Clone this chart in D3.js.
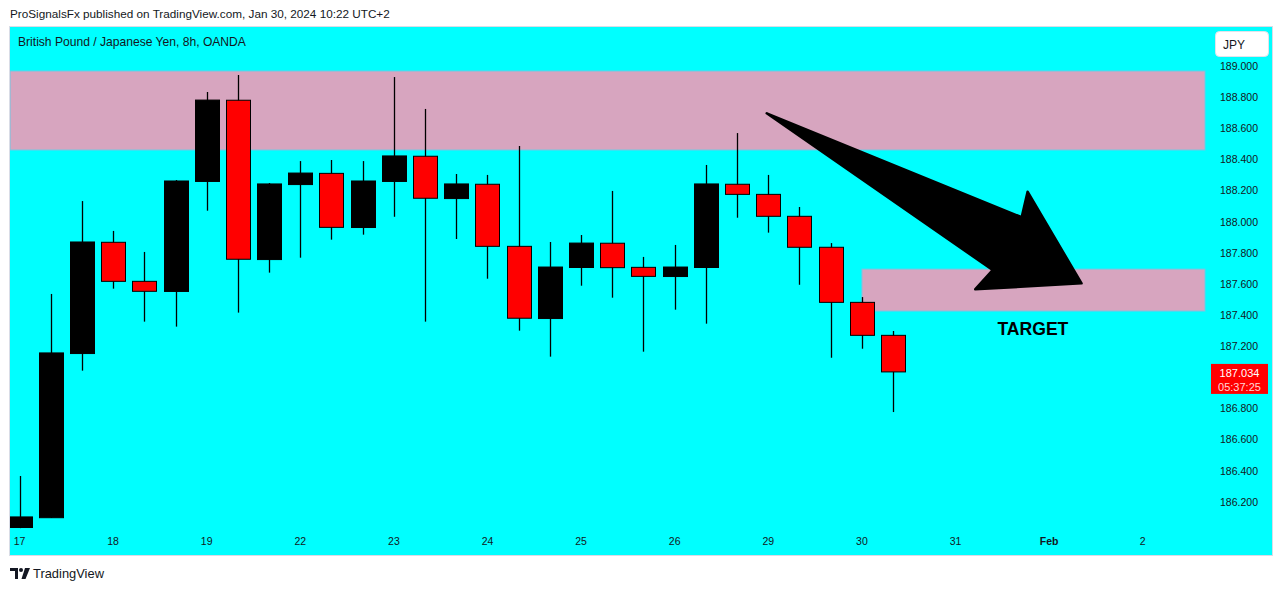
<!DOCTYPE html>
<html><head><meta charset="utf-8">
<script src="https://cdn.jsdelivr.net/npm/d3@7"></script>
<style>
body{margin:0;background:#fff;}
svg{display:block;font-family:"Liberation Sans",Arial,sans-serif;}
</style>
</head><body>
<svg id="c" width="1283" height="591"></svg>
<script>
// ---------- DATA ----------
const candleDays = ["Jan 17","Jan 17","Jan 17","Jan 18","Jan 18","Jan 18","Jan 19","Jan 19","Jan 19",
  "Jan 22","Jan 22","Jan 22","Jan 23","Jan 23","Jan 23","Jan 24","Jan 24","Jan 24","Jan 25","Jan 25","Jan 25",
  "Jan 26","Jan 26","Jan 26","Jan 29","Jan 29","Jan 29","Jan 30","Jan 30"];
const opens  = [186.034,186.097,187.152,187.867,187.616,187.551,188.258,188.780,187.756,188.238,
                188.310,187.962,188.258,188.420,188.148,188.240,187.841,187.377,187.705,187.861,
                187.706,187.647,187.705,188.240,188.175,188.034,187.835,187.481,187.269];
const highs  = [186.365,187.535,188.132,187.940,187.805,188.267,188.833,188.942,188.248,188.389,
                188.396,188.389,188.929,188.724,188.306,188.300,188.486,187.869,187.914,188.197,
                187.773,187.850,188.364,188.569,188.300,188.094,187.862,187.515,187.297];
const lows   = [186.030,186.095,187.042,187.569,187.357,187.325,188.070,187.415,187.672,187.768,
                187.884,187.916,188.031,187.357,187.888,187.633,187.299,187.132,187.588,187.511,
                187.164,187.434,187.344,188.025,187.929,187.594,187.125,187.183,186.776];
const closes = [186.102,187.156,187.869,187.616,187.552,188.261,188.781,187.758,188.242,188.312,
                187.963,188.261,188.422,188.150,188.242,187.841,187.379,187.708,187.862,187.704,
                187.648,187.708,188.242,188.175,188.034,187.835,187.481,187.269,187.034];

const dayTickIndex  = [0,3,6,9,12,15,18,21,24,27,30,33,36];
const dayTickLabels = ["17","18","19","22","23","24","25","26","29","30","31","Feb","2"];
const priceTicks = [186.2,186.4,186.6,186.8,187.2,187.4,187.6,187.8,188.0,188.2,188.4,188.6,188.8,189.0];

// zones (candle index span, price bounds)
const zoneStart  = [-2, 27];
const zoneEnd    = [38, 38];
const zoneTop    = [188.968, 187.695];
const zoneBottom = [188.460, 187.425];

// arrow drawing (candle index, price)
const arrowIndex = [23.95, 32.12, 32.31, 34.04, 30.63, 31.19];
const arrowPrice = [188.696, 188.028, 188.192, 187.603, 187.565, 187.689];
const targetLabel = {index: 32.48, price: 187.316, text: "TARGET"};

const lastPrice = 187.034;
const countdown = "05:37:25";
const headerText = "ProSignalsFx published on TradingView.com, Jan 30, 2024 10:22 UTC+2";
const titleText = "British Pound / Japanese Yen, 8h, OANDA";
const currencyText = "JPY";

// ---------- LAYOUT ----------
const svg = d3.select("#c");
const paneL = 10, paneR = 1272, paneT = 27, paneB = 555;
const plotL = 10, plotR = 1210, plotT = 27, plotB = 530;
const candleStep = 31.2, firstX = 19.5;

const x = d3.scaleLinear()
  .domain([(plotL - firstX) / candleStep, (plotR - firstX) / candleStep])
  .range([plotL, plotR]);
const y = d3.scaleLinear().domain([186, 189]).range([66 + 3 * 155.6, 66]);

const CYAN = "#00ffff", RED = "#ff0000", PINK = "#d7a5bf", TXT = "#131722";

function fitText(sel, target) {
  const n = sel.node();
  const fs = parseFloat(sel.attr("font-size"));
  const w = n.getComputedTextLength();
  if (w > 0) sel.attr("font-size", (fs * target / w).toFixed(2));
}

// header
fitText(svg.append("text").attr("x", 10).attr("y", 18).attr("font-size", 12)
  .attr("fill", TXT).text(headerText), 380);

// pane background
svg.append("rect").attr("x", paneL - 0.5).attr("y", paneT - 0.5)
  .attr("width", paneR - paneL + 1).attr("height", paneB - paneT + 1)
  .attr("fill", CYAN).attr("stroke", "#d9dce6").attr("stroke-width", 1);

// clip for plot
svg.append("defs").append("clipPath").attr("id", "plotclip")
  .append("rect").attr("x", plotL).attr("y", plotT).attr("width", plotR - plotL).attr("height", plotB - plotT);

const plot = svg.append("g").attr("clip-path", "url(#plotclip)");

// zones
const zoneData = zoneStart.map((s, i) => ({s, e: zoneEnd[i], t: zoneTop[i], b: zoneBottom[i]}));
plot.selectAll("rect.zone").data(zoneData).join("rect").attr("class", "zone")
  .attr("x", d => Math.max(plotL, x(d.s)))
  .attr("width", d => Math.min(1205, x(d.e)) - Math.max(plotL, x(d.s)))
  .attr("y", d => y(d.t)).attr("height", d => y(d.b) - y(d.t))
  .attr("fill", PINK).attr("stroke", "#6ccbe6").attr("stroke-width", 1);

// candles
const candles = opens.map((o, i) => ({i, o, h: highs[i], l: lows[i], c: closes[i], day: candleDays[i]}));
const bodyW = 24;
const cg = plot.selectAll("g.candle").data(candles).join("g").attr("class", "candle");
cg.append("line")
  .attr("x1", d => Math.round(x(d.i)) + 0.5).attr("x2", d => Math.round(x(d.i)) + 0.5)
  .attr("y1", d => y(d.h)).attr("y2", d => y(d.l))
  .attr("stroke", "#000").attr("stroke-width", 1.3);
cg.append("rect")
  .attr("x", d => Math.round(x(d.i)) + 0.5 - bodyW / 2)
  .attr("width", bodyW)
  .attr("y", d => y(Math.max(d.o, d.c)))
  .attr("height", d => Math.max(1, Math.abs(y(d.o) - y(d.c))))
  .attr("fill", d => d.c >= d.o ? "#000" : RED)
  .attr("stroke", "#000").attr("stroke-width", 1);

// arrow
const arrowPts = arrowIndex.map((a, i) => [x(a), y(arrowPrice[i])]);
plot.append("path").attr("d", d3.line()(arrowPts) + "Z")
  .attr("fill", "#000").attr("stroke", "#000").attr("stroke-width", 2.5)
  .attr("stroke-linejoin", "round");

// target label
fitText(plot.append("text").attr("x", x(targetLabel.index)).attr("y", y(targetLabel.price) + 6.5)
  .attr("text-anchor", "middle").attr("font-size", 18).attr("font-weight", "bold")
  .attr("fill", "#000").text(targetLabel.text), 71);

// title
fitText(svg.append("text").attr("x", 18).attr("y", 46).attr("font-size", 11.5)
  .attr("fill", TXT).text(titleText), 228);

// price axis labels
svg.append("g").selectAll("text").data(priceTicks).join("text")
  .attr("x", 1239).attr("y", d => y(d) + 4).attr("text-anchor", "middle")
  .attr("font-size", 10.5).attr("fill", TXT).text(d => d.toFixed(3));

// JPY box
svg.append("rect").attr("x", 1215.5).attr("y", 31.5).attr("width", 53).attr("height", 25).attr("rx", 4)
  .attr("fill", "#fff").attr("stroke", "#e0e3eb");
svg.append("text").attr("x", 1234).attr("y", 48.5).attr("text-anchor", "middle")
  .attr("font-size", 12).attr("fill", TXT).text(currencyText);

// last price label
const ly = y(lastPrice);
svg.append("rect").attr("x", 1211).attr("y", ly - 8).attr("width", 57).attr("height", 30).attr("fill", RED);
svg.append("text").attr("x", 1239.5).attr("y", ly + 5).attr("text-anchor", "middle")
  .attr("font-size", 11).attr("fill", "#fff").text(lastPrice.toFixed(3));
svg.append("text").attr("x", 1239.5).attr("y", ly + 19).attr("text-anchor", "middle")
  .attr("font-size", 11).attr("fill", "#ffd6d6").text(countdown);

// time axis labels
svg.append("g").selectAll("text").data(dayTickIndex).join("text")
  .attr("x", d => x(d)).attr("y", 545).attr("text-anchor", "middle")
  .attr("font-size", 10.5).attr("fill", TXT)
  .attr("font-weight", (d, i) => dayTickLabels[i] === "Feb" ? "bold" : "normal")
  .text((d, i) => dayTickLabels[i]);

// TradingView logo
const logo = svg.append("g").attr("fill", TXT);
logo.append("path").attr("d", "M10 568 H18 V579 H15 V571 H10 Z");
logo.append("circle").attr("cx", 21).attr("cy", 570).attr("r", 2);
logo.append("path").attr("d", "M25 568 H30 L25.5 579 H21.5 Z");
fitText(svg.append("text").attr("x", 33).attr("y", 578).attr("font-size", 12.5)
  .attr("fill", TXT).text("TradingView"), 71);
</script>
</body></html>
